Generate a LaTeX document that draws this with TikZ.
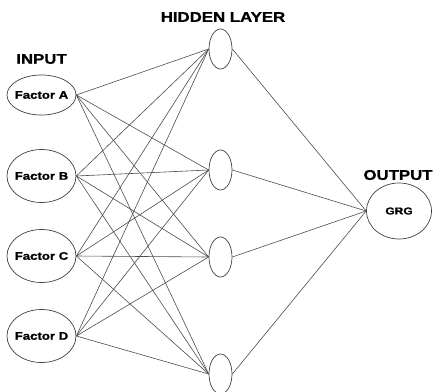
\documentclass[tikz,border=0pt]{standalone}
\usepackage{fontspec}
\setmainfont{Liberation Sans}[BoldFeatures={FakeStretch=1.2,FakeBold=1}]
\usetikzlibrary{shapes.geometric}

\begin{document}
\begin{tikzpicture}[
    x=1pt, y=-1pt,
    unit/.style={draw=black!75, line width=0.7pt, ellipse, inner sep=0pt},
    inp/.style={unit, minimum width=69pt, minimum height=53pt},
    hid/.style={unit, minimum width=23pt, minimum height=40pt},
    outp/.style={unit, minimum width=65pt, minimum height=56pt},
    lbl/.style={font=\fontsize{11}{13}\selectfont\bfseries, inner sep=0pt},
    head/.style={font=\fontsize{14}{16}\selectfont\bfseries, inner sep=0pt},
    link/.style={draw=black!70, line width=0.6pt}
]
    \useasboundingbox (0,0) rectangle (433,391);

    % Headings
    \node[head] (tin) at (41.5,59) {INPUT};
    \node[head] (thid) at (223,17) {HIDDEN LAYER};
    \node[head] (tout) at (398,175) {OUTPUT};

    % Input layer
    \node[inp, minimum height=40pt, label={[lbl]center:Factor A}] (in1) at (41.5,95) {};
    \node[inp, label={[lbl]center:Factor B}] (in2) at (41.5,176) {};
    \node[inp, label={[lbl]center:Factor C}] (in3) at (41.5,256) {};
    \node[inp, label={[lbl]center:Factor D}] (in4) at (41.5,336) {};

    % Hidden layer
    \node[hid] (h1) at (220.5,49) {};
    \node[hid] (h2) at (220.5,170) {};
    \node[hid] (h3) at (220.5,257) {};
    \node[hid] (h4) at (220.5,374) {};

    % Output
    \node[outp, label={[lbl, font=\fontsize{10}{12}\selectfont\bfseries]center:GRG}] (out) at (399,211) {};

    % Connections
    \foreach \i in {1,...,4} {
        \foreach \j in {1,...,4} {
            \draw[link] (in\i.east) -- (h\j.west);
        }
        \draw[link] (h\i.east) -- (out.west);
    }
\end{tikzpicture}
\end{document}
